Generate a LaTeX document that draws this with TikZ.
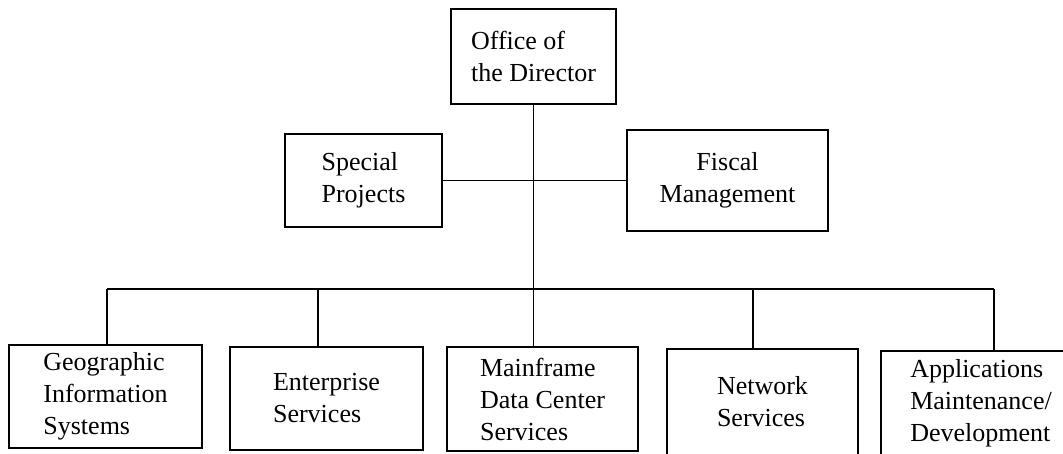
\documentclass[tikz,border=0pt]{standalone}
\usepackage{fontspec}
\setmainfont{Liberation Serif}
\usepackage{tikz}

\begin{document}
\begin{tikzpicture}[x=1pt, y=-1pt, thick]
        % Define styles
        \tikzstyle{unit} = [rectangle, draw, line width=1.1pt, inner sep=0pt, align=left, font=\fontsize{26}{32}\selectfont]
        \tikzstyle{link} = [-, line width=1.1pt]

        \useasboundingbox (0,0) rectangle (1063,453);

        % Nodes
        \node (director) [unit, minimum width=165, minimum height=95] at (533.5,56.5) {Office of\\the Director};

        \node (special) [unit, minimum width=157, minimum height=93] at (363.5,180.5) {Special\\Projects};
        \node (fiscal) [unit, align=center, minimum width=201, minimum height=101] at (727.5,180.5) {Fiscal\\Management};

        \node (gis) [unit, minimum width=193, minimum height=103] at (105.5,396.5) {Geographic\\Information\\Systems};
        \node (enterprise) [unit, minimum width=193, minimum height=103] at (326.5,398.5) {Enterprise\\Services};
        \node (mainframe) [unit, minimum width=191, minimum height=104] at (542.5,399) {Mainframe\\Data Center\\Services};
        \node (network) [unit, minimum width=191, minimum height=106] at (762.5,402) {Network\\Services};
        \node (apps) [unit, minimum width=200, minimum height=104] at (981,403) {Applications\\Maintenance/\\Development};

        % Bus
        \coordinate (b1) at (107,289);
        \coordinate (b2) at (318,289);
        \coordinate (b4) at (753,289);
        \coordinate (b5) at (994,289);

        % Connections
        \draw [link] (director.south) -- (director.south |- mainframe.north);
        \draw [link] (special.east) -- (fiscal.west);
        \draw [link] (b1) -- (b5);

        \draw [link] (b1) -- (b1 |- gis.north);
        \draw [link] (b2) -- (b2 |- enterprise.north);
        \draw [link] (b4) -- (b4 |- network.north);
        \draw [link] (b5) -- (b5 |- apps.north);

    \end{tikzpicture}
\end{document}
